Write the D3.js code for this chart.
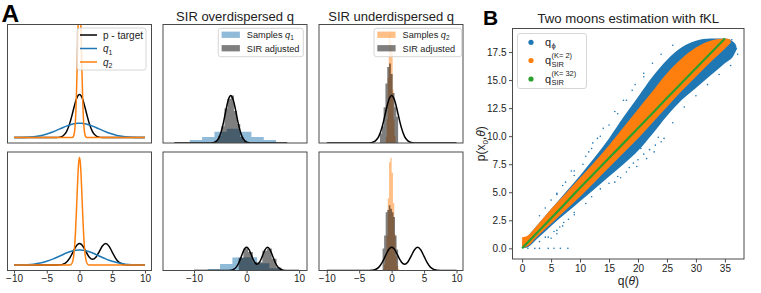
<!DOCTYPE html>
<html><head><meta charset="utf-8">
<script src="https://cdn.jsdelivr.net/npm/d3@7"></script>
<style>body{margin:0;background:#fff}</style>
</head><body>
<svg id="c" width="761" height="293" xmlns="http://www.w3.org/2000/svg"></svg>
<script>
// ---------------- DATA ----------------
// Panel A – density curves (x grid and densities)
const curveX = [-10,-9,-8,-7,-6,-5,-4,-3.5,-3,-2.5,-2,-1.5,-1.25,-1,-0.875,-0.75,-0.625,-0.5,-0.375,-0.25,-0.125,0,0.125,0.25,0.375,0.5,0.625,0.75,0.875,1,1.25,1.5,2,2.5,3,3.5,4,4.5,5,5.5,6,7,8,9,10];
const pTop  = [0,0,0,0,0,0,0.0001,0.0009,0.0044,0.0175,0.054,0.1295,0.1826,0.242,0.2717,0.3011,0.3282,0.3521,0.3718,0.3867,0.3958,0.3989,0.3958,0.3867,0.3718,0.3521,0.3282,0.3011,0.2717,0.242,0.1826,0.1295,0.054,0.0175,0.0044,0.0009,0.0001,0,0,0,0,0,0,0,0];
const q1Top = [0.0005,0.0015,0.0038,0.0087,0.018,0.0332,0.0547,0.0673,0.0807,0.094,0.1065,0.1174,0.122,0.1258,0.1275,0.1289,0.1302,0.1312,0.132,0.1325,0.1329,0.133,0.1329,0.1325,0.132,0.1312,0.1302,0.1289,0.1275,0.1258,0.122,0.1174,0.1065,0.094,0.0807,0.0673,0.0547,0.0432,0.0332,0.0248,0.018,0.0087,0.0038,0.0015,0.0005];
const q2Top = [0,0,0,0,0,0,0,0,0,0,0,0,0.0002,0.005,0.019,0.058,0.152,0.332,0.609,0.94,1.22,1.33,1.22,0.94,0.609,0.332,0.152,0.058,0.019,0.005,0.0002,0,0,0,0,0,0,0,0,0,0,0,0,0,0];
const pBot  = [0,0,0,0,0,0,0,0.0005,0.0022,0.0088,0.027,0.0648,0.0913,0.121,0.1359,0.1506,0.1641,0.1761,0.1859,0.1934,0.1979,0.1995,0.198,0.1936,0.1862,0.1765,0.1648,0.1516,0.1374,0.1232,0.0959,0.0736,0.054,0.0736,0.1232,0.1765,0.1995,0.1761,0.121,0.0648,0.027,0.0022,0.0001,0,0];
const q1Bot = [0.0005,0.0016,0.004,0.0091,0.019,0.035,0.0574,0.0707,0.0847,0.0987,0.1118,0.1233,0.1281,0.1321,0.1339,0.1353,0.1367,0.1378,0.1386,0.1391,0.1395,0.1397,0.1395,0.1391,0.1386,0.1378,0.1367,0.1353,0.1339,0.1321,0.1281,0.1233,0.1118,0.0987,0.0847,0.0707,0.0574,0.0454,0.035,0.026,0.019,0.0091,0.004,0.0016,0.0005];
const q2Bot = [0,0,0,0,0,0,0,0,0,0,0,0.0009,0.0075,0.0438,0.091,0.172,0.294,0.456,0.642,0.82,0.949,0.997,0.949,0.82,0.642,0.456,0.294,0.172,0.091,0.0438,0.0075,0.0009,0,0,0,0,0,0,0,0,0,0,0,0,0];

// Panel A – histograms (bin edges, densities)
const tmBlueEdges = [-7.26,-5.08,-2.89,-0.71,1.47,3.66,5.84,8.03];
const tmBlueH     = [0.026,0.051,0.094,0.12,0.094,0.051,0.026];
const tmGreyEdges = [-2.8,-2.24,-1.68,-1.12,-0.56,0,0.56,1.12,1.68,2.24,2.8];
const tmGreyH     = [0.02,0.06,0.14,0.29,0.37,0.40,0.27,0.16,0.05,0.02];
const bmBlueEdges = [-9.75,-7.4,-5.05,-2.7,-0.35,2.0,4.35,6.7,9.05];
const bmBlueH     = [0.004,0.013,0.056,0.112,0.113,0.062,0.019,0.004];
const bmGreyEdges = [-1.5,-0.6,0.3,1.2,2.1,3.0,3.9,4.8,5.7,6.6];
const bmGreyH     = [0.11,0.19,0.16,0.07,0.07,0.17,0.19,0.10,0.025];
const trOrEdges   = [-0.9,-0.75,-0.6,-0.45,-0.3,-0.15,0,0.15,0.3,0.45,0.6];
const trOrH       = [0.05,0.2,0.55,0.9,0.95,0.85,0.78,0.45,0.2,0.06];
const trGreyEdges = [-1.8,-1.52,-1.24,-0.96,-0.68,-0.4,-0.12,0.16,0.44,0.72,1.0];
const trGreyH     = [0.08,0.14,0.30,0.50,0.64,0.67,0.58,0.42,0.30,0.22];
const brOrEdges   = [-1.4,-1.2,-1.0,-0.8,-0.6,-0.4,-0.2,0,0.2,0.4,0.6,0.8,1.0,1.2];
const brOrH       = [0.01,0.05,0.14,0.30,0.62,0.93,0.97,0.84,0.58,0.31,0.12,0.04,0.01];
const brGreyEdges = [-1.4,-1.16,-0.92,-0.68,-0.44,-0.2,0.04,0.28,0.52,0.76,1.0];
const brGreyH     = [0.19,0.30,0.50,0.52,0.56,0.53,0.50,0.46,0.30,0.18];

const ticksWide = [-10,-5,0,5,10];
const ticksMid  = [-10,0,10];

// Panel B – scatter clouds (envelopes of the dense point clouds + sparse points)
const bq      = [0,1,2.5,5,7.5,10,12.5,15,17.5,20,22.5,25,27.5,30,32.5,35,36.5,37];
const blueHi  = [0.4,1.1,2.0,3.5,5.0,6.5,8.1,9.8,11.7,13.5,15.3,16.8,17.9,18.5,18.7,18.7,18.4,18.0];
const blueLo  = [0,0.1,0.8,2.0,3.1,4.2,5.3,6.4,7.5,8.7,10.2,11.8,13.2,14.3,15.4,16.5,17.2,17.7];
const oq      = [0,1,2.5,5,7.5,10,12.5,15,17.5,20,22.5,25,27.5,30,32.5,35,36];
const orHi    = [1.0,1.15,2.0,3.5,4.9,6.3,7.7,9.2,10.8,12.4,14.0,15.6,16.9,17.9,18.5,18.7,18.6];
const orLo    = [0,0.2,1.0,2.2,3.4,4.6,5.9,7.2,8.5,9.8,11.2,12.6,14.0,15.3,16.6,17.8,18.3];
const gq      = [0,5,10,15,20,25,30,35];
const gp      = [0,2.68,5.4,8.05,10.7,13.4,16.05,18.7];
const sparseQ = [1,2.2,3,4.5,5.5,6.6,7.9, 4.5,5.5,6.5,7.2,5,6,8,9, 18.5,19.2,20,21,22,23,24,24.5,19.8,21.5,22.8,18,17,16,20.5,23.5,
                 12.2,13,11.5,14,16,17.5,19,21,10.5,9,7.5,6,5,8.5, 36.7,37,36.2,37.2,
                 3,4,6,7,9,11,12,13.5,15,16.5,18,19.5,21,22.5,24,26,
                 3,4,6,7,9,11,12,13.5,15,16.5,26,28,30,32,34,36];
const sparseP = [0,0,0,0,0,0,0, 1.0,1.5,1.9,2.3,0.9,1.3,2.6,3.0, 7.2,7.6,7.9,8.4,8.8,9.2,9.5,9.8,7.3,8.0,8.6,6.8,6.3,5.9,8.9,9.9,
                 9.4,9.8,8.6,10.7,12.2,13.2,14.1,15.3,7.5,6.5,5.9,4.8,4.3,6.9, 18.2,17.8,18.6,17.3,
                 2.9,3.6,4.9,5.6,6.9,8.2,8.9,10.0,11.0,12.0,13.2,14.6,15.6,16.5,17.3,18.1,
                 0.6,1.0,1.6,2.0,3.2,4.0,4.6,5.3,5.8,6.4,11.2,12.6,13.6,14.6,15.5,16.3];
const bxTicks = [0,5,10,15,20,25,30,35];
const byTicks = [0,2.5,5,7.5,10,12.5,15,17.5];

// ---------------- DRAWING ----------------
const FONT = '"Liberation Sans", Arial, sans-serif';
const frameC = "#4a4a4a";
const C = {blue:"#1f77b4", orange:"#ff7f0e", green:"#2ca02c"};
const svg = d3.select("#c");
let clipN = 0;

function makeAxes(x0,x1,y0,y1,xd,yd){
  const id = "clip"+(clipN++);
  const x = d3.scaleLinear().domain(xd).range([x0,x1]);
  const y = d3.scaleLinear().domain(yd).range([y1,y0]);
  svg.append("clipPath").attr("id",id).append("rect")
    .attr("x",x0).attr("y",y0).attr("width",x1-x0).attr("height",y1-y0);
  const g = svg.append("g").attr("clip-path",`url(#${id})`);
  return {x,y,g,x0,x1,y0,y1};
}
function frame(a){
  svg.append("rect").attr("x",a.x0).attr("y",a.y0).attr("width",a.x1-a.x0).attr("height",a.y1-a.y0)
    .attr("fill","none").attr("stroke",frameC).attr("stroke-width",1);
}
function xAxis(a,ticks,fmt,size,pad){
  const ax = d3.axisBottom(a.x).tickValues(ticks).tickSize(size).tickPadding(pad);
  if(fmt) ax.tickFormat(fmt);
  const g = svg.append("g").attr("transform",`translate(0,${a.y1})`).call(ax);
  g.select(".domain").remove();
  g.attr("font-family",FONT).attr("font-size",10);
  g.selectAll("line").attr("stroke",frameC);
  g.selectAll("text").attr("fill","#222");
}
function yAxis(a,ticks,fmt){
  const ax = d3.axisLeft(a.y).tickValues(ticks).tickSize(3.5).tickPadding(2.5).tickFormat(fmt);
  const g = svg.append("g").attr("transform",`translate(${a.x0},0)`).call(ax);
  g.select(".domain").remove();
  g.attr("font-family",FONT).attr("font-size",10);
  g.selectAll("line").attr("stroke",frameC);
  g.selectAll("text").attr("fill","#222");
}
function curve(a,ys,color){
  const line = d3.line().x((d,i)=>a.x(curveX[i])).y(d=>a.y(d)).curve(d3.curveMonotoneX);
  a.g.append("path").attr("d",line(ys)).attr("fill","none").attr("stroke",color).attr("stroke-width",1.5);
}
function hist(a,edges,h,color){
  const pts = edges.map((e,i)=>[e, h[Math.min(i,h.length-1)]]);
  const area = d3.area().curve(d3.curveStepAfter).x(d=>a.x(d[0])).y0(a.y(0)).y1(d=>a.y(d[1]));
  a.g.append("path").attr("d",area(pts)).attr("fill",color);
}

const cols = [[7.5,151.5],[163,307],[319,463]];
const rows = [[24.5,143],[152,270.5]];
const yMaxL = d3.max(q2Bot);
const yL = [-0.05*yMaxL, 1.05*yMaxL];
const yTopMR = [0, 1.05*d3.max(trOrH)];
const yBotMR = [0, 1.05*d3.max(brOrH)];

// left column
const aTL = makeAxes(cols[0][0],cols[0][1],rows[0][0],rows[0][1],[-11,11],yL);
curve(aTL,pTop,"#000"); curve(aTL,q1Top,C.blue); curve(aTL,q2Top,C.orange);
const aBL = makeAxes(cols[0][0],cols[0][1],rows[1][0],rows[1][1],[-11,11],yL);
curve(aBL,pBot,"#000"); curve(aBL,q1Bot,C.blue); curve(aBL,q2Bot,C.orange);

// middle column
const aTM = makeAxes(cols[1][0],cols[1][1],rows[0][0],rows[0][1],[-12,13.5],yTopMR);
hist(aTM,tmBlueEdges,tmBlueH,"rgba(31,119,180,0.5)");
hist(aTM,tmGreyEdges,tmGreyH,"rgba(0,0,0,0.5)");
curve(aTM,pTop,"#000");
const aBM = makeAxes(cols[1][0],cols[1][1],rows[1][0],rows[1][1],[-15.9,11.5],yBotMR);
hist(aBM,bmBlueEdges,bmBlueH,"rgba(31,119,180,0.5)");
hist(aBM,bmGreyEdges,bmGreyH,"rgba(0,0,0,0.5)");
curve(aBM,pBot,"#000");

// right column
const aTR = makeAxes(cols[2][0],cols[2][1],rows[0][0],rows[0][1],[-11.2,11],yTopMR);
hist(aTR,trOrEdges,trOrH,"rgba(255,127,14,0.5)");
hist(aTR,trGreyEdges,trGreyH,"rgba(0,0,0,0.5)");
curve(aTR,pTop,"#000");
const aBR = makeAxes(cols[2][0],cols[2][1],rows[1][0],rows[1][1],[-11.2,11],yBotMR);
hist(aBR,brOrEdges,brOrH,"rgba(255,127,14,0.5)");
hist(aBR,brGreyEdges,brGreyH,"rgba(0,0,0,0.5)");
curve(aBR,pBot,"#000");

[aTL,aBL,aTM,aBM,aTR,aBR].forEach(frame);
xAxis(aBL,ticksWide,null,3,1.5);
xAxis(aBM,ticksMid,null,3,1.5);
xAxis(aBR,ticksWide,null,3,1.5);

// legends
function legendBox(x,y,w,h){
  svg.append("rect").attr("x",x).attr("y",y).attr("width",w).attr("height",h).attr("rx",2.5)
    .attr("fill","#fff").attr("fill-opacity",0.8).attr("stroke","#cccccc").attr("stroke-width",0.8);
}
function txt(x,y,fs){
  return svg.append("text").attr("x",x).attr("y",y).attr("font-family",FONT).attr("font-size",fs).attr("fill","#222");
}
function qText(t,sub,fs){
  t.append("tspan").attr("font-style","italic").text("q");
  t.append("tspan").attr("font-size",fs*0.7).attr("dy",fs*0.25).text(sub);
}
legendBox(77,28,69,42);
[["#000",35],[C.blue,48.5],[C.orange,62]].forEach(([c,yy])=>{
  svg.append("line").attr("x1",80).attr("x2",97).attr("y1",yy).attr("y2",yy).attr("stroke",c).attr("stroke-width",1.5);
});
txt(103,38.5,10).text("p - target");
qText(txt(103,52,10),"1",10);
qText(txt(103,65.5,10),"2",10);

function histLegend(x0,w,color,sub){
  legendBox(x0,28.3,w,28.4);
  svg.append("rect").attr("x",x0+3.3).attr("y",31.6).attr("width",18.3).attr("height",6.3).attr("fill",color);
  svg.append("rect").attr("x",x0+3.3).attr("y",45.1).attr("width",18.3).attr("height",6.3).attr("fill","rgba(0,0,0,0.5)");
  const t = txt(x0+28.5,38.1,9.2); t.append("tspan").text("Samples ");
  qText(t,sub,9.2);
  txt(x0+28.5,51.6,9.2).text("SIR adjusted");
}
histLegend(218.3,85,"rgba(31,119,180,0.5)","1");
histLegend(374,87.7,"rgba(255,127,14,0.5)","2");

// titles
txt(235,21.3,13).attr("text-anchor","middle").text("SIR overdispersed q");
txt(391.2,21.3,13).attr("text-anchor","middle").text("SIR underdispersed q");
txt(1.5,22.3,24.5).attr("font-weight","bold").attr("fill","#000").text("A");

// ---------------- Panel B ----------------
const aB = makeAxes(512.5,744,28.5,259,[-1.66,38.3],[-0.95,19.6]);
const bArea = d3.area().x((d,i)=>aB.x(bq[i])).y0((d,i)=>aB.y(blueLo[i])).y1(d=>aB.y(d)).curve(d3.curveMonotoneX);
aB.g.append("path").attr("d",bArea(blueHi)).attr("fill",C.blue);
aB.g.selectAll(".sp").data(sparseQ).join("circle").attr("class","sp")
  .attr("cx",d=>aB.x(d)).attr("cy",(d,i)=>aB.y(sparseP[i])).attr("r",0.8).attr("fill",C.blue);
const oArea = d3.area().x((d,i)=>aB.x(oq[i])).y0((d,i)=>aB.y(orLo[i])).y1(d=>aB.y(d)).curve(d3.curveMonotoneX);
aB.g.append("path").attr("d",oArea(orHi)).attr("fill",C.orange);
const gLine = d3.line().x((d,i)=>aB.x(gq[i])).y(d=>aB.y(d)).curve(d3.curveMonotoneX);
aB.g.append("path").attr("d",gLine(gp)).attr("fill","none").attr("stroke",C.green).attr("stroke-width",2.2);
frame(aB);
xAxis(aB,bxTicks,d3.format("d"),3.5,2.2);
yAxis(aB,byTicks,d3.format(".1f"));

txt(628.3,22.7,13.2).attr("text-anchor","middle").text("Two moons estimation with fKL");
txt(483,25,21).attr("font-weight","bold").attr("fill","#000").text("B");
const xl = txt(628.3,284.5,12).attr("text-anchor","middle");
xl.append("tspan").text("q(");
xl.append("tspan").attr("font-style","italic").text("θ");
xl.append("tspan").text(")");
const yl = txt(0,0,12).attr("text-anchor","middle").attr("transform","translate(485,143.7) rotate(-90)");
yl.append("tspan").text("p(x");
yl.append("tspan").attr("font-size",8).attr("dy",2.5).text("0");
yl.append("tspan").attr("dy",-2.5).text(",");
yl.append("tspan").attr("font-style","italic").text("θ");
yl.append("tspan").text(")");

// legend B
legendBox(517.5,33.5,69,55);
const legB = [[C.blue,42.3,"ϕ",null],[C.orange,60.5,"SIR","(K= 2)"],[C.green,79,"SIR","(K= 32)"]];
legB.forEach(([c,yy,sub,sup])=>{
  svg.append("circle").attr("cx",531).attr("cy",yy).attr("r",2.6).attr("fill",c);
  const t = txt(545,yy+3.6,11).text("q");
  const w = t.node().getComputedTextLength();
  txt(545+w+0.3,yy+(sup?6.2:6.0),7.5).text(sub);
  if(sup) txt(545+w+0.3,yy-2.6,7.5).text(sup);
});
</script>
</body></html>
